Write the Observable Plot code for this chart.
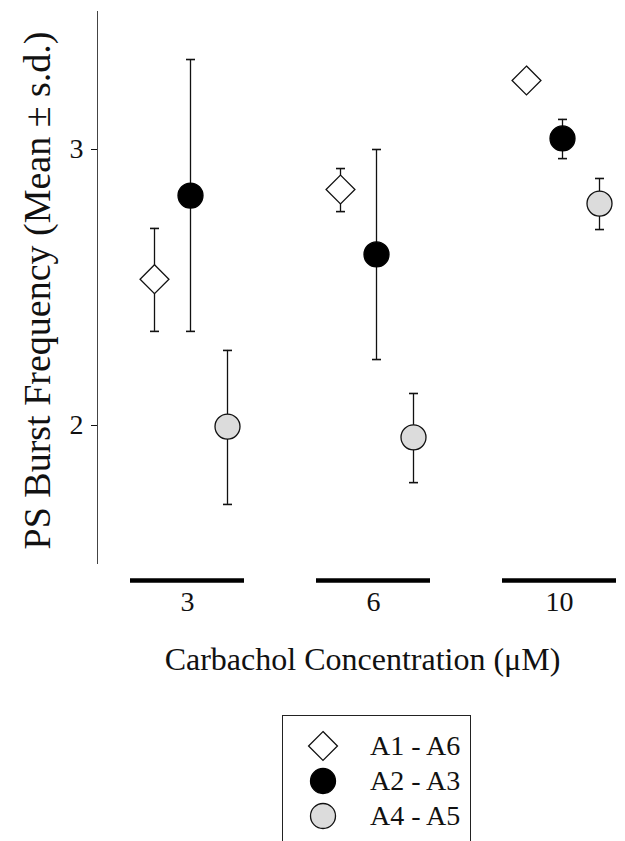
<!DOCTYPE html>
<html>
<head>
<meta charset="utf-8">
<script src="https://cdn.jsdelivr.net/npm/d3@7"></script>
<script src="https://cdn.jsdelivr.net/npm/@observablehq/plot@0.6"></script>
<style>
  html, body { margin: 0; padding: 0; background: #fff; }
  body { width: 625px; height: 841px; overflow: hidden; font-family: "Liberation Serif", "Times New Roman", "DejaVu Serif", serif; }
  #legend { margin-left: 282px; margin-top: 25px; width: 189px; height: 150px; border: 1px solid #222; box-sizing: border-box; position: relative; }
  .lrow { position: absolute; left: 0; height: 34px; display: flex; align-items: center; }
  .lrow svg { margin-left: 23px; }
  .lrow span { margin-left: 30px; font-size: 28px; color: #111; white-space: nowrap; }
</style>
</head>
<body>
<div id="chart"></div>
<div id="legend"></div>
<script>
// ---- data ----
const groups = ["3", "6", "10"];                 // Carbachol concentration (µM)
const seriesNames = ["A1 - A6", "A2 - A3", "A4 - A5"];
const meanA1A6 = [2.53, 2.855, 3.25];
const hiA1A6   = [2.714, 2.931, null];
const loA1A6   = [2.341, 2.775, null];
const meanA2A3 = [2.833, 2.62, 3.04];
const hiA2A3   = [3.326, 3.0, 3.109];
const loA2A3   = [2.341, 2.239, 2.967];
const meanA4A5 = [1.996, 1.957, 2.804];
const hiA4A5   = [2.272, 2.116, 2.895];
const loA4A5   = [1.714, 1.793, 2.71];
const yTicks = [2, 3];

// ---- styling per series ----
const styles = [
  {symbol: "diamond2", r: 13, fill: "#fff", stroke: "#111", dx: -33},
  {symbol: "circle", r: 12.5, fill: "#000", stroke: "#000", dx: 3},
  {symbol: "circle", r: 12.5, fill: "#dcdcdc", stroke: "#111", dx: 40}
];
const means = [meanA1A6, meanA2A3, meanA4A5];
const his = [hiA1A6, hiA2A3, hiA4A5];
const los = [loA1A6, loA2A3, loA4A5];

const rows = [];
seriesNames.forEach((s, j) => groups.forEach((g, i) => {
  rows.push({series: s, group: g, mean: means[j][i], hi: his[j][i], lo: los[j][i]});
}));

const cap = {draw(ctx, size) { const w = Math.sqrt(size / Math.PI); ctx.moveTo(-w, 0); ctx.lineTo(w, 0); }};
const serif = "'Liberation Serif', 'Times New Roman', serif";

const marks = [
  Plot.frame({anchor: "left", stroke: "#444", strokeWidth: 1}),
  Plot.axisY({ticks: yTicks, tickFormat: "d", tickSize: 6, tickPadding: 8, fontSize: 28, label: null}),
  Plot.axisX({tickSize: 0, tickPadding: 28, fontSize: 28, label: null}),
  Plot.tickY(groups, {x: d => d, y: () => 1.5, dy: 17, stroke: "#000", strokeWidth: 4.5}),
  Plot.text(["PS Burst Frequency (Mean ± s.d.)"], {frameAnchor: "left", textAnchor: "middle", rotate: -90, dx: -60, dy: 3, fontSize: 38, fill: "#111"}),
  Plot.text(["Carbachol Concentration (μM)"], {frameAnchor: "bottom", textAnchor: "middle", dx: 1, dy: 106, fontSize: 32, fill: "#111"})
];

seriesNames.forEach((s, j) => {
  const st = styles[j];
  const data = rows.filter(d => d.series === s);
  const withErr = data.filter(d => d.hi != null);
  marks.push(
    Plot.ruleX(withErr, {x: "group", y1: "lo", y2: "hi", dx: st.dx, stroke: "#111", strokeWidth: 1.3}),
    Plot.dot(withErr, {x: "group", y: "lo", dx: st.dx, symbol: cap, r: 4.5, stroke: "#111", strokeWidth: 1.6, fill: "none"}),
    Plot.dot(withErr, {x: "group", y: "hi", dx: st.dx, symbol: cap, r: 4.5, stroke: "#111", strokeWidth: 1.6, fill: "none"}),
    Plot.dot(data, {x: "group", y: "mean", dx: st.dx, symbol: st.symbol, r: st.r, fill: st.fill, stroke: st.stroke, strokeWidth: 1.3})
  );
});

const chart = Plot.plot({
  width: 625,
  height: 690,
  marginLeft: 97,
  marginRight: 0,
  marginTop: 11,
  marginBottom: 127,
  style: {fontFamily: serif, background: "#fff", color: "#111", overflow: "visible"},
  x: {type: "band", domain: groups, range: [128.5, 617.5], paddingInner: 0.385, paddingOuter: 0},
  y: {domain: [1.5, 3.5]},
  marks
});
document.getElementById("chart").appendChild(chart);

// ---- legend ----
const legend = document.getElementById("legend");
seriesNames.forEach((s, j) => {
  const st = styles[j];
  const row = document.createElement("div");
  row.className = "lrow";
  row.style.top = (13 + j * 35) + "px";
  const size = 34;
  const path = d3.symbol(st.symbol === "diamond2" ? d3.symbolDiamond2 : d3.symbolCircle, Math.PI * st.r * st.r)();
  row.innerHTML = `<svg width="${size}" height="${size}" viewBox="${-size/2} ${-size/2} ${size} ${size}"><path d="${path}" fill="${st.fill}" stroke="${st.stroke}" stroke-width="1.3"/></svg><span>${s}</span>`;
  legend.appendChild(row);
});
</script>
</body>
</html>
